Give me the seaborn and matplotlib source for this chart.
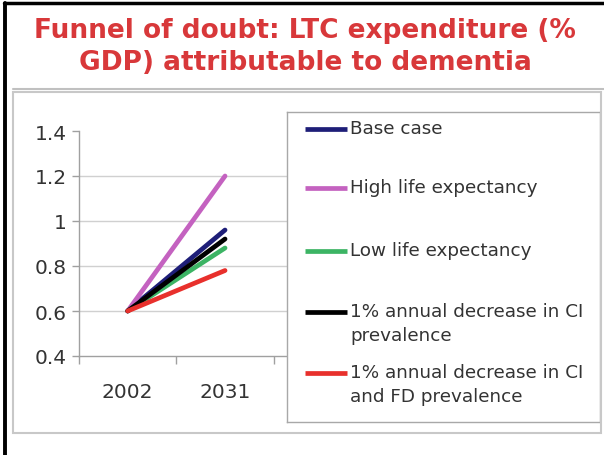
import matplotlib
matplotlib.use("Agg")
import matplotlib.pyplot as plt
from matplotlib.patches import Rectangle
from matplotlib.lines import Line2D
import pandas as pd
import seaborn as sns

# ---------------- data ----------------
years = ["2002", "2031"]
scenarios = [
    "Base case",
    "High life expectancy",
    "Low life expectancy",
    "1% annual decrease in CI\nprevalence",
    "1% annual decrease in CI\nand FD prevalence",
]
base_case = [0.60, 0.96]
high_life = [0.60, 1.20]
low_life = [0.60, 0.88]
ci_decrease = [0.60, 0.92]
ci_fd_decrease = [0.60, 0.78]
y_ticks = [0.4, 0.6, 0.8, 1.0, 1.2, 1.4]
title_lines = ["Funnel of doubt: LTC expenditure (%", "GDP) attributable to dementia"]

colors = ["#1e1e78", "#c462c0", "#3cb464", "#000000", "#e8302c"]
series = [base_case, high_life, low_life, ci_decrease, ci_fd_decrease]

rows = []
for name, vals in zip(scenarios, series):
    for i, v in enumerate(vals):
        rows.append({"scenario": name, "pos": i, "value": v})
df = pd.DataFrame(rows)

# ---------------- style ----------------
sns.set_style("white")
plt.rcParams["font.family"] = ["DejaVu Sans"]
W, H = 604, 456
fig = plt.figure(figsize=(W / 100, H / 100), dpi=100)


def fx(px):
    return px / W


def fy(py):
    return 1 - py / H


# frames around the picture
fig.add_artist(Line2D([fx(4), fx(604)], [fy(4), fy(4)], color="black", lw=2.5))
fig.add_artist(Line2D([fx(5), fx(5)], [fy(4), fy(456)], color="black", lw=2.8))
fig.add_artist(Line2D([fx(13), fx(604)], [fy(90), fy(90)], color="#c0c0c0", lw=1.5))
fig.add_artist(Rectangle((fx(13), fy(434)), fx(601) - fx(13), fy(93) - fy(434),
                         fill=False, edgecolor="#c8c8c8", lw=1.5))

# title, two lines on their own baselines
for txt, base in zip(title_lines, [38, 70]):
    fig.text(fx(305), fy(base), txt, ha="center", va="baseline",
             color="#d8383a", fontsize=19, fontweight="bold")

# ---------------- main axes ----------------
ax = fig.add_axes([fx(79), fy(357), fx(300) - fx(79), fy(132) - fy(357)])
sns.lineplot(data=df, x="pos", y="value", hue="scenario", hue_order=scenarios,
             palette=dict(zip(scenarios, colors)), linewidth=3.4, legend=False,
             sort=False, ax=ax)

ax.set_xlim(-0.49, 1.77)
ax.set_ylim(0.4, 1.4)
ax.set_yticks(y_ticks)
ax.set_yticklabels([f"{t:g}" for t in y_ticks])
ax.set_xticks(range(len(years)))
ax.set_xticklabels(years)
ax.set_xticks([-0.5, 0.5, 1.5], minor=True)
ax.set_xlabel("")
ax.set_ylabel("")

for s in ["top", "right"]:
    ax.spines[s].set_visible(False)
for s in ["left", "bottom"]:
    ax.spines[s].set_color("#a0a0a0")
    ax.spines[s].set_linewidth(1.0)

ax.tick_params(axis="y", which="major", left=True, length=5, width=1,
               color="#a0a0a0", labelsize=14.5, labelcolor="#333333", pad=4)
ax.tick_params(axis="x", which="major", bottom=False, length=0,
               labelsize=14.5, labelcolor="#333333", pad=19)
ax.tick_params(axis="x", which="minor", bottom=True, length=6, width=1,
               color="#a0a0a0")

ax.grid(axis="y", color="#d0d0d0", linewidth=1.0)
ax.set_axisbelow(True)
ygl = ax.get_ygridlines()
ygl[0].set_visible(False)
ygl[-1].set_visible(False)

# ---------------- legend (Excel-style, handle on first text line) ----------------
lx0, ly0, lx1, ly1 = 287, 113, 600, 423
lax = fig.add_axes([fx(lx0), fy(ly1), fx(lx1) - fx(lx0), fy(ly0) - fy(ly1)])
lax.set_xlim(0, lx1 - lx0)
lax.set_ylim(ly1 - ly0, 0)
lax.set_xticks([])
lax.set_yticks([])
lax.set_facecolor("white")
for s in lax.spines.values():
    s.set_color("#a8a8a8")
    s.set_linewidth(1.0)

row_y = [17, 76, 139, 200, 261]
for name, col, yy in zip(scenarios, colors, row_y):
    lax.plot([18, 60], [yy, yy], color=col, lw=3.4, solid_capstyle="butt")
    lax.text(63, yy - 10, name, ha="left", va="top", fontsize=13.2,
             color="#333333", linespacing=1.4)

fig.savefig("out.png", dpi=100)
